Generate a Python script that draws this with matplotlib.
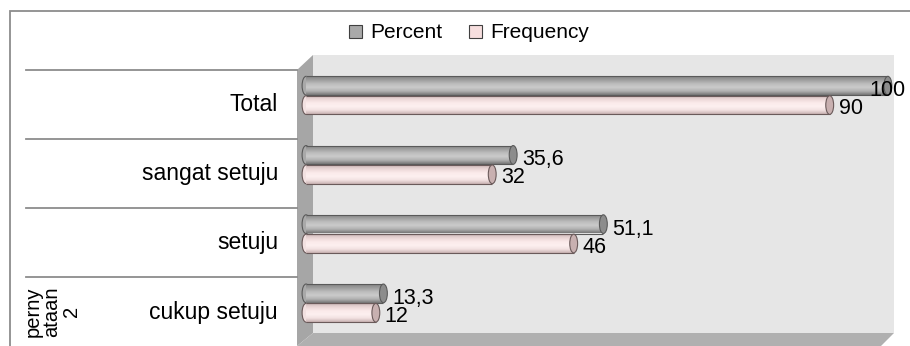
import matplotlib
matplotlib.use("Agg")
import matplotlib.pyplot as plt
import numpy as np
from matplotlib.patches import Polygon, Ellipse, Rectangle
from matplotlib.colors import LinearSegmentedColormap
from matplotlib.transforms import blended_transform_factory

plt.rcParams['font.family'] = ['Liberation Sans', 'DejaVu Sans']

categories = ['cukup setuju', 'setuju', 'sangat setuju', 'Total']
percent = [13.3, 51.1, 35.6, 100]
frequency = [12, 46, 32, 90]
percent_labels = ['13,3', '51,1', '35,6', '100']
frequency_labels = ['12', '46', '32', '90']
group_label = 'perny\nataan\n2'

W, H = 910, 346
fig = plt.figure(figsize=(W / 100, H / 100), dpi=100)


def px(x, y):
    return (x / W, 1 - y / H)


# outer frame
fig.add_artist(Rectangle(px(10, 400), 1000 / W, 389 / H, transform=fig.transFigure,
                         fill=False, edgecolor='#8c8c8c', lw=1.3, zorder=-1))

# 3d walls behind the plot
back = [px(313, 55), px(894, 55), px(894, 333), px(313, 333)]
side = [px(297, 70), px(313, 55), px(313, 333), px(297, 346)]
floor = [px(297, 346), px(313, 333), px(894, 333), px(881, 346)]
fig.add_artist(Polygon(back, closed=True, transform=fig.transFigure,
                       facecolor='#e6e6e6', edgecolor='none', zorder=-1))
fig.add_artist(Polygon(side, closed=True, transform=fig.transFigure,
                       facecolor='#a6a6a6', edgecolor='none', zorder=-1))
fig.add_artist(Polygon(floor, closed=True, transform=fig.transFigure,
                       facecolor='#b0b0b0', edgecolor='none', zorder=-1))

ax = fig.add_axes([297 / W, 0, (W - 297) / W, (H - 40) / H])
ax.set_facecolor('none')
for s in ax.spines.values():
    s.set_visible(False)
ax.set_xticks([])
ax.set_yticks([])

y = np.arange(len(categories))
h = 0.27
off = 0.14

gray_cmap = LinearSegmentedColormap.from_list(
    'g', ['#767676', '#b0b0b0', '#cbcbcb', '#bcbcbc', '#9e9e9e', '#828282'])
pink_cmap = LinearSegmentedColormap.from_list(
    'p', ['#c9b3b3', '#f2e1e1', '#fdf0f0', '#fbeaea', '#ead6d6', '#cdb7b7'])
grad = np.linspace(0, 1, 64).reshape(-1, 1)
cap_w = 1.35


def cylinders(ypos, vals, cmap, mid, cap, edge):
    bars = ax.barh(ypos, vals, height=h, color='none', edgecolor='none', zorder=3)
    for bar, v in zip(bars, vals):
        y0, y1 = bar.get_y(), bar.get_y() + bar.get_height()
        ax.add_patch(Ellipse((0, (y0 + y1) / 2), cap_w, h, facecolor=mid,
                             edgecolor=edge, lw=0.8, zorder=2))
        im = ax.imshow(grad, extent=[0, v, y1, y0], cmap=cmap, aspect='auto',
                       interpolation='bilinear', zorder=3)
        im.set_clip_path(bar)
        ax.hlines([y0, y1], 0, v, colors=edge, lw=0.8, zorder=4)
        ax.add_patch(Ellipse((v, (y0 + y1) / 2), cap_w, h, facecolor=cap,
                             edgecolor=edge, lw=0.8, zorder=5))
    return bars


cylinders(y + off, percent, gray_cmap, '#a9a9a9', '#8c8c8c', '#5a5a5a')
cylinders(y - off, frequency, pink_cmap, '#f2e1e1', '#c8b0b0', '#6a5a5a')

# value labels at the bar ends, pulled back when they would run off the wall
for yy, v, t in zip(y + off, percent, percent_labels):
    dx = -13 if v >= 95 else 6.5
    ax.annotate(t, (v, yy), xytext=(dx, -3.5), textcoords='offset points',
                ha='left', va='center', fontsize=15.5, zorder=6)
for yy, v, t in zip(y - off, frequency, frequency_labels):
    ax.annotate(t, (v, yy), xytext=(6.5, -2.5), textcoords='offset points',
                ha='left', va='center', fontsize=15.5, zorder=6)

# category table on the left
blend = blended_transform_factory(fig.transFigure, ax.transData)
for i, c in enumerate(categories):
    ax.text(278 / W, i - 0.13, c, transform=blend, ha='right', va='center',
            fontsize=16.5, clip_on=False)
    ax.plot([26 / W, 297 / W], [i + 0.37, i + 0.37], transform=blend,
            color='#8c8c8c', lw=1.3, clip_on=False)
ax.text(52 / W, -0.12, group_label, transform=blend, rotation=90,
        ha='center', va='center', fontsize=14.5, linespacing=1.0,
        multialignment='center', clip_on=False)

ax.set_xlim(-1.55, 103.8)
ax.set_ylim(-0.62, 3.8)

# legend
handles = [Rectangle((0, 0), 1, 1, facecolor='#a9a9a9', edgecolor='#404040', lw=0.8),
           Rectangle((0, 0), 1, 1, facecolor='#f6dede', edgecolor='#404040', lw=0.8)]
fig.legend(handles, ['Percent', 'Frequency'], loc='center', bbox_to_anchor=px(469, 33),
           ncol=2, frameon=False, fontsize=15, handlelength=0.6, handleheight=0.6,
           handletextpad=0.4, columnspacing=1.3, borderaxespad=0)

fig.savefig('out.png', dpi=100)
